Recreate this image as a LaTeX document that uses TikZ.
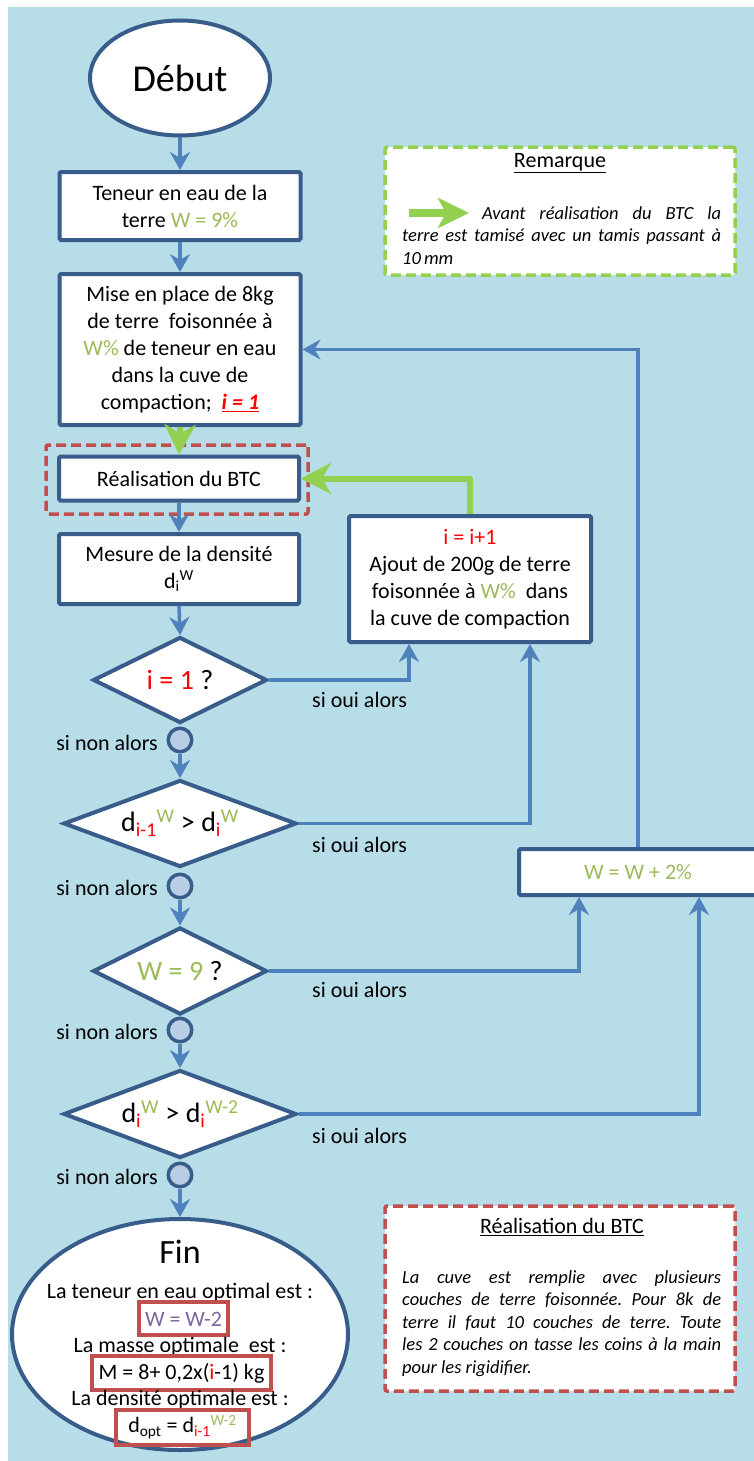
\documentclass[tikz,border=0pt]{standalone}
\usepackage{fontspec}
\setmainfont{Carlito}
\usetikzlibrary{shapes.geometric,arrows.meta,positioning}
\definecolor{bgblue}{HTML}{B7DDE8}
\definecolor{boxline}{HTML}{385D8A}
\definecolor{arrblue}{HTML}{4F81BD}
\definecolor{grn}{HTML}{92D050}
\definecolor{wgreen}{HTML}{9BBB59}
\definecolor{dred}{HTML}{C0504D}
\definecolor{purp}{HTML}{8064A2}
\definecolor{circfill}{HTML}{B9CDE5}
\frenchspacing
\begin{document}
\begin{tikzpicture}[x=1pt,y=-1pt,
  every node/.style={inner sep=0pt},
  txt/.style={font=\fontsize{22}{27}\selectfont, align=center},
  fbox/.style={txt, draw=boxline, line width=4pt, fill=white, rounded corners=1.5pt},
  dia/.style={diamond, draw=boxline, line width=4pt, fill=white, font=\fontsize{28}{32}\selectfont},
  oval/.style={ellipse, draw=boxline, line width=4pt, fill=white},
  knot/.style={circle, draw=boxline, line width=3.5pt, fill=circfill, minimum size=23.5pt},
  barrow/.style={draw=arrblue, line width=3.5pt, -{Stealth[length=18pt,width=20pt,inset=6pt]}},
  garrow/.style={draw=grn, line width=6pt, line join=round, -{Stealth[length=30pt,width=31pt,inset=9pt]}},
  lab/.style={font=\fontsize{22}{27}\selectfont},
  rbox/.style={draw=dred, line width=4pt},
  dashframe/.style={line width=3.5pt, dash pattern=on 10pt off 5pt, rounded corners=2pt},
  note/.style={font=\fontsize{18.5}{22.6}\selectfont\itshape\frenchspacing, text width=319pt, align=justify}
]
\useasboundingbox (0,0) rectangle (754,1461);
\clip (0,0) rectangle (754,1461);
\fill[white] (0,0) rectangle (754,1461);
\fill[bgblue] (7.5,7.5) rectangle (760,1470);

% main column
\node[oval, minimum width=180pt, minimum height=115pt, font=\fontsize{38}{40}\selectfont] (deb) at (180,78) {Début};
\node[fbox, minimum width=241pt, minimum height=68pt] (b1) at (180,206) {Teneur en eau de la\\terre \textcolor{wgreen}{W = 9\%}};
\node[fbox, minimum width=241pt, minimum height=151pt] (b2) at (180,349.5) {Mise en place de 8kg\\de terre~ foisonnée à\\\textcolor{wgreen}{W\%} de teneur en eau\\dans la cuve de\\compaction;~ \textcolor{red}{\underline{\textbf{\textit{i = 1}}}}};
\node[draw=dred, dashframe, minimum width=262pt, minimum height=69pt] (btcf) at (177,479.5) {};
\node[fbox, minimum width=240pt, minimum height=44pt] (btc) at (179,478.5) {Réalisation du BTC};
\node[fbox, minimum width=240pt, minimum height=70pt] (mes) at (179,569) {Mesure de la densité\\d\textsubscript{i}\textsuperscript{W}};

\node[dia, minimum width=174pt, minimum height=86pt, shape aspect=2] (d1) at (180,680) {\textcolor{red}{i = 1} ?};
\node[knot] (c1) at (180,740) {};
\node[dia, minimum width=233pt, minimum height=87pt, shape aspect=2.7] (d2) at (180,823.5) {d\textsubscript{\textcolor{red}{i-1}}\textsuperscript{\textcolor{wgreen}{W}} > d\textsubscript{\textcolor{red}{i}}\textsuperscript{\textcolor{wgreen}{W}}};
\node[knot] (c2) at (180,886) {};
\node[dia, minimum width=174pt, minimum height=87pt, shape aspect=2] (d3) at (180,971) {\textcolor{wgreen}{W = 9} ?};
\node[knot] (c3) at (180,1030) {};
\node[dia, minimum width=233pt, minimum height=88pt, shape aspect=2.7] (d4) at (180,1114) {d\textsubscript{\textcolor{red}{i}}\textsuperscript{\textcolor{wgreen}{W}} > d\textsubscript{\textcolor{red}{i}}\textsuperscript{\textcolor{wgreen}{W-2}}};
\node[knot] (c4) at (180,1175) {};

\node[lab, anchor=east] (n1) at (158,743) {si non alors};
\node[lab, anchor=east] (n2) at (158,888) {si non alors};
\node[lab, anchor=east] (n3) at (158,1032) {si non alors};
\node[lab, anchor=east] (n4) at (158,1177) {si non alors};

% Fin
\node[oval, minimum width=336pt, minimum height=231pt] (fin) at (180,1334.5) {};
\node[font=\fontsize{34}{36}\selectfont] (fint) at (180,1252) {Fin};
\node[txt] (t1) at (180,1293) {La teneur en eau optimal est :};
\node[txt, text=purp] (t2) at (183.5,1319) {W = W-2};
\node[rbox, minimum width=89pt, minimum height=33pt] (r1) at (183.5,1318.5) {};
\node[txt] (t3) at (180,1347) {La masse optimale~ est :};
\node[txt] (t4) at (181.5,1373) {M = 8+ 0,2x(\textcolor{red}{i}-1) kg};
\node[rbox, minimum width=179pt, minimum height=34pt] (r2) at (181.5,1373) {};
\node[txt] (t5) at (180,1400) {La densité optimale est :};
\node[txt] (t6) at (182.5,1427) {d\textsubscript{opt} = d\textsubscript{\textcolor{red}{i-1}}\textsuperscript{\textcolor{wgreen}{W-2}}};
\node[rbox, minimum width=133pt, minimum height=35pt] (r3) at (182.5,1427.5) {};

% right column
\node[fbox, minimum width=242pt, minimum height=126pt] (inc) at (470,579) {\textcolor{red}{i = i+1}\\Ajout de 200g de terre\\foisonnée à \textcolor{wgreen}{W\%}~ dans\\la cuve de compaction};
\node[fbox, minimum width=238pt, minimum height=46pt, text=wgreen] (wb) at (638,872) {W = W + 2\%};

\node[lab, anchor=west] (o1) at (312,700) {si oui alors};
\node[lab, anchor=west] (o2) at (312,845) {si oui alors};
\node[lab, anchor=west] (o3) at (312,990) {si oui alors};
\node[lab, anchor=west] (o4) at (312,1136) {si oui alors};

% remark boxes
\node[draw=grn, fill=white, dashframe, minimum width=350pt, minimum height=128pt] (rem) at (560,211) {};
\node[lab] (remt) at (560,163) {\underline{Remarque}};
\coordinate (ra) at (409,213);
\coordinate (rb) at (469,213);
\draw[draw=grn, line width=8pt, -{Stealth[length=31pt,width=30pt,inset=8pt]}] (ra) -- (rb);
\node[note, anchor=north west] (remx) at (402,206) {\hspace*{80pt}Avant réalisation du BTC la\linebreak terre est tamisé avec un tamis passant à\linebreak 10\,mm};

\node[draw=dred, fill=white, dashframe, minimum width=350pt, minimum height=185pt] (rem2) at (560,1298.5) {};
\node[lab] (rem2t) at (562,1227) {\underline{Réalisation du BTC}};
\node[note, anchor=north west] (rem2x) at (402,1270) {La cuve est remplie avec plusieurs\linebreak couches de terre foisonnée. Pour 8k de\linebreak terre il faut 10 couches de terre. Toute\linebreak les 2 couches on tasse les coins à la main\linebreak pour les rigidifier.};

% connectors
\draw[barrow] (deb.south) -- (b1.north);
\draw[barrow] (b1.south) -- (b2.north);
\draw[garrow] (b2.south) -- (btc.north);
\draw[barrow] (btc.south) -- (mes.north);
\draw[barrow] (mes.south) -- (d1.north);
\draw[barrow] (c1.south) -- (d2.north);
\draw[barrow] (c2.south) -- (d3.north);
\draw[barrow] (c3.south) -- (d4.north);
\draw[barrow] (c4.south) -- (fin.north);
\draw[barrow] (d1.east) -| ([xshift=-61pt]inc.south);
\draw[barrow] (d2.east) -| ([xshift=60pt]inc.south);
\draw[barrow] (d3.east) -| ([xshift=-59pt]wb.south);
\draw[barrow] (d4.east) -| ([xshift=61pt]wb.south);
\draw[barrow] (wb.north) |- (b2.east);
\draw[garrow] (inc.north) |- (btc.east);
\end{tikzpicture}
\end{document}
